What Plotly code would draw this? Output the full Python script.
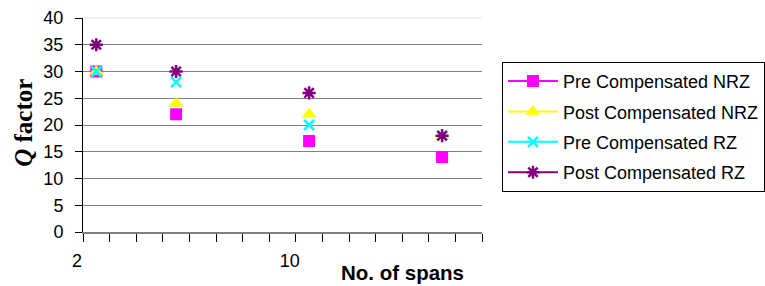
import plotly.graph_objects as go

# ---- data ----
spans = [2, 5, 10, 15]
pre_nrz = [30, 22, 17, 14]
post_nrz = [30, 24, 22, 18]
pre_rz = [30, 28, 20, 18]
post_rz = [35, 30, 26, 18]
series_names = ["Pre Compensated NRZ", "Post Compensated NRZ",
                "Pre Compensated RZ", "Post Compensated RZ"]
x_tick_labels = ["2", "10"]
y_tick_values = [0, 5, 10, 15, 20, 25, 30, 35, 40]

series_values = [pre_nrz, post_nrz, pre_rz, post_rz]
styles = [
    dict(symbol="square", size=12, color="#FF00FF", line=dict(width=0)),
    dict(symbol="triangle-up", size=13, color="#FFFF00", line=dict(width=0)),
    dict(symbol="x-thin-open", size=10, color="#00FFFF", line=dict(color="#00FFFF", width=2.5)),
    dict(symbol="asterisk-open", size=11, color="#800080", line=dict(color="#800080", width=2.5)),
]
line_colors = ["#FF00FF", "#FFFF00", "#00FFFF", "#800080"]

fig = go.Figure()
for name, vals, st in zip(series_names, series_values, styles):
    fig.add_trace(go.Scatter(x=spans, y=vals, mode="markers", marker=st,
                             name=name, showlegend=False, cliponaxis=False))
# legend entries (line + marker sample, as in the reference legend)
for i, (name, st, lc) in enumerate(zip(series_names, styles, line_colors)):
    fig.add_trace(go.Scatter(x=[None], y=[None], mode="lines+markers", marker=st,
                             line=dict(color=lc, width=2), name=name,
                             legendgroup=str(i), showlegend=True))

font_family = "Liberation Sans, Arial, sans-serif"

fig.update_layout(
    width=765, height=286,
    margin=dict(l=83, r=283, t=18, b=54, autoexpand=False),
    paper_bgcolor="white", plot_bgcolor="white",
    font=dict(family=font_family, color="black"),
    showlegend=True,
    legend=dict(x=1.05, xanchor="left", y=0.795, yanchor="top",
                bordercolor="black", borderwidth=1, bgcolor="white",
                font=dict(size=18, family=font_family), tracegroupgap=4,
                itemwidth=50),
    xaxis=dict(range=[1.5, 16.5], showgrid=False, zeroline=False, automargin=False,
               showline=True, linecolor="#808080", linewidth=1.5,
               tickmode="array", tickvals=[1.5, 9.5], ticktext=x_tick_labels,
               ticks="outside", ticklen=8, tickcolor="black", tickwidth=1,
               ticklabelstandoff=4, ticklabelshift=-6,
               tickfont=dict(size=18, family=font_family),
               minor=dict(tickmode="linear", tick0=1.5, dtick=1, ticks="outside",
                          ticklen=8, tickcolor="black", tickwidth=1, showgrid=False)),
    yaxis=dict(range=[0, 40], showgrid=True, gridcolor="#808080", gridwidth=1.2,
               zeroline=False, showline=True, linecolor="black", linewidth=1,
               automargin=False,
               tickmode="array", tickvals=y_tick_values, ticks="outside",
               ticklen=7, tickcolor="black", ticklabelstandoff=8,
               tickfont=dict(size=18, family=font_family)),
    annotations=[
        dict(text="<b>No. of spans</b>", xref="paper", yref="paper",
             x=0.802, y=-0.187, xanchor="center", yanchor="middle",
             showarrow=False, font=dict(size=20.5, family=font_family)),
        dict(text="<b><i>Q</i> factor</b>", xref="paper", yref="paper",
             x=-0.148, y=0.51, xanchor="center", yanchor="middle",
             textangle=-90, showarrow=False,
             font=dict(size=25, family="Liberation Serif, Times New Roman, serif")),
    ],
    shapes=[dict(type="line", xref="paper", yref="paper", x0=0, x1=1, y0=1, y1=1,
                 line=dict(color="#EEEEEE", width=1.5), layer="above")],
)

fig.write_html("out.html", config={"displayModeBar": False},
               post_script="document.body.style.margin='0';document.body.style.overflow='hidden';")
